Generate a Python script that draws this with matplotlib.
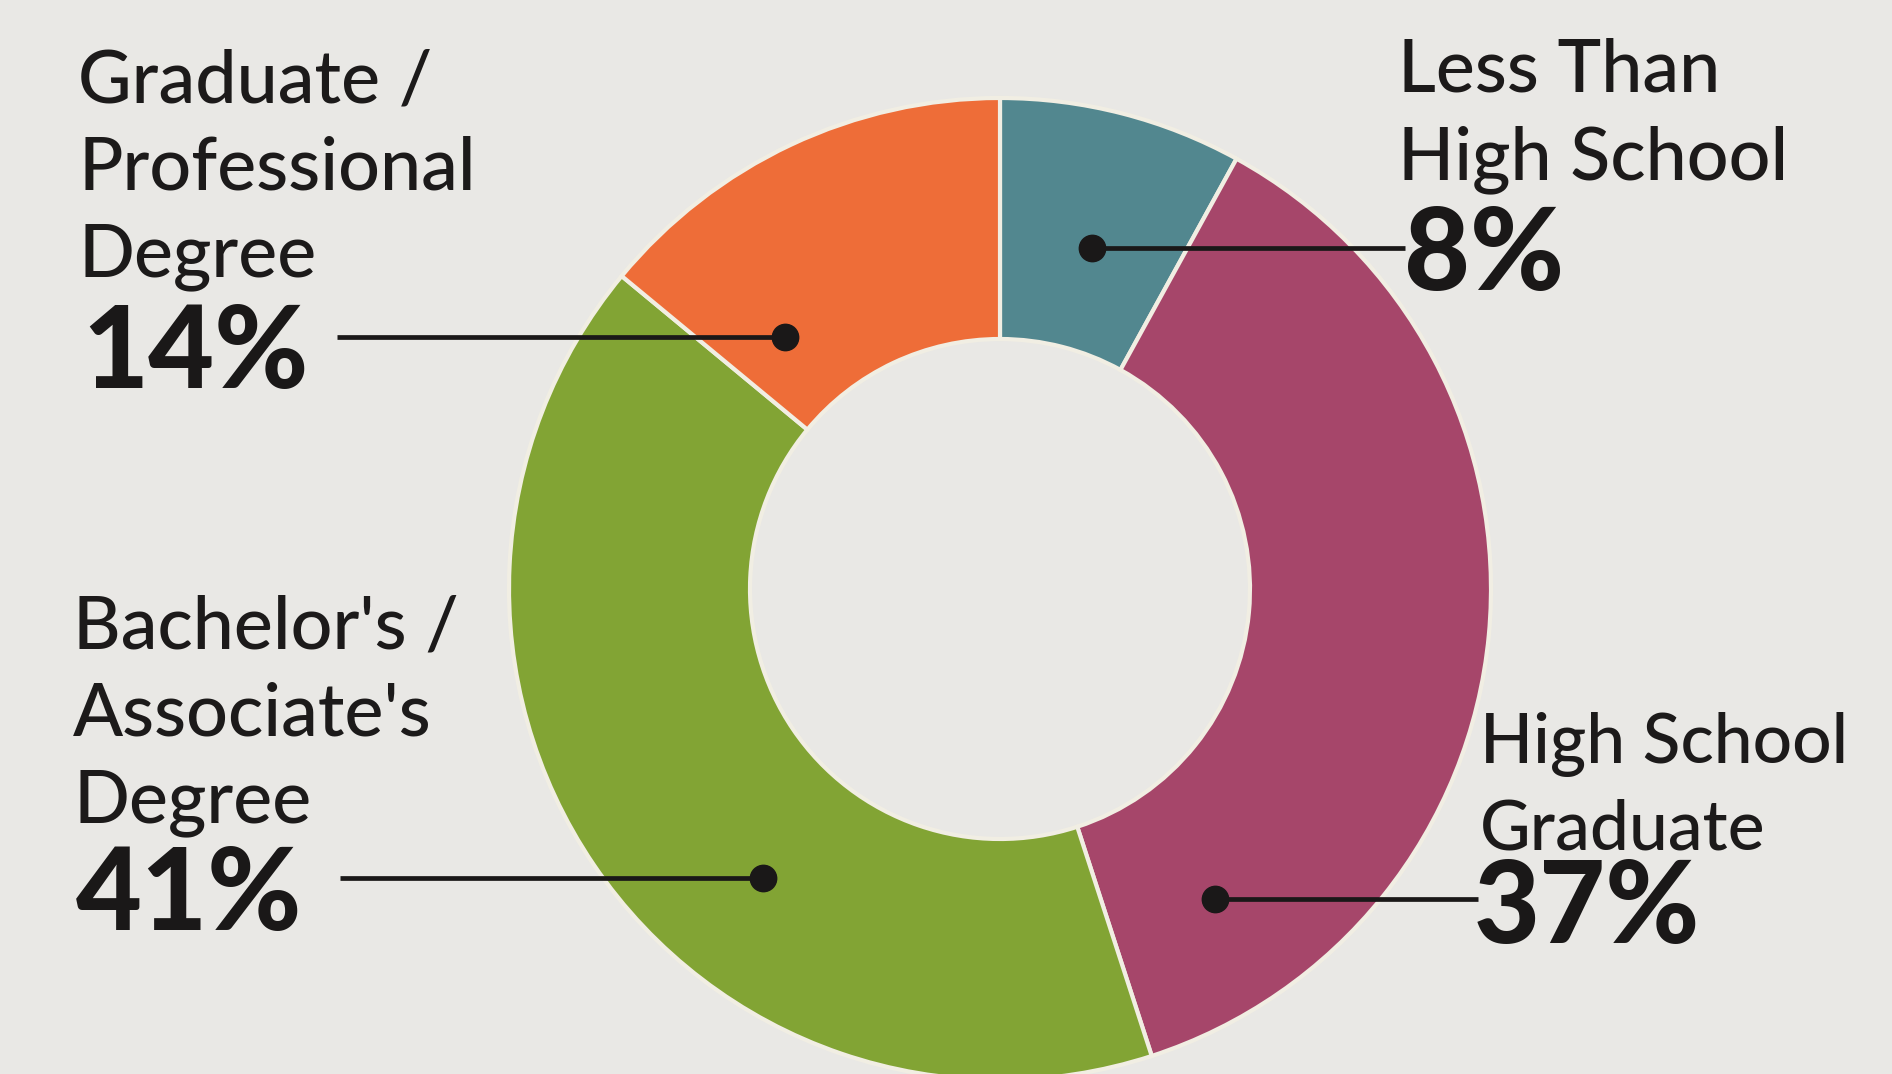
import matplotlib.pyplot as plt

W, H = 1892, 1074

# education breakdown, clockwise from 12 o'clock
groups = [['Less Than', 'High School'],
          ['High School', 'Graduate'],
          ["Bachelor's /", "Associate's", 'Degree'],
          ['Graduate /', 'Professional', 'Degree']]
shares = [8, 37, 41, 14]
colors = ['#52878f', '#a6466a', '#82a434', '#ee6d38']

# label placement in pixels (origin top-left)
text_xy = [(1398, 92), (1480, 763), (73, 648), (78, 102)]
text_size = [53, 50, 53, 53]
pct_xy = [(1404, 290), (1474, 943), (76, 930), (82, 388)]
dot_xy = [(1092, 248), (1215, 899), (763, 878), (785, 337)]
lead_x = [1405, 1478, 340, 337]
line_step = 87

bg = '#e9e8e5'
fig = plt.figure(figsize=(W / 100, H / 100), dpi=100, facecolor=bg)
ax = fig.add_axes([0, 0, 1, 1])
ax.set_facecolor(bg)

cx, cy, r_out, r_in = 1000, 589, 491, 250
ax.pie(shares, colors=colors, startangle=90, counterclock=False,
       center=(cx, H - cy), radius=r_out,
       wedgeprops=dict(width=r_out - r_in, edgecolor='#f1eee3', linewidth=3))

ax.set_xlim(0, W)
ax.set_ylim(0, H)
ax.set_aspect('equal')
ax.axis('off')

for lines, share, (tx, ty), fs, (px, py), (dx, dy), lx in zip(
        groups, shares, text_xy, text_size, pct_xy, dot_xy, lead_x):
    for i, ln in enumerate(lines):
        ax.text(tx, H - (ty + i * line_step), ln, family='Lato',
                fontweight='medium', fontsize=fs, color='#1c1a1a',
                ha='left', va='baseline')
    ax.text(px, H - py, f'{share}%', family='Lato', fontweight='black',
            fontsize=82, color='#1a1818', ha='left', va='baseline')
    ax.plot([dx, lx], [H - dy, H - dy], color='#1a1818', lw=3.4,
            solid_capstyle='butt')
    ax.plot(dx, H - dy, 'o', color='#1a1818', ms=19)

fig.savefig('out.png', dpi=100, facecolor=bg)
